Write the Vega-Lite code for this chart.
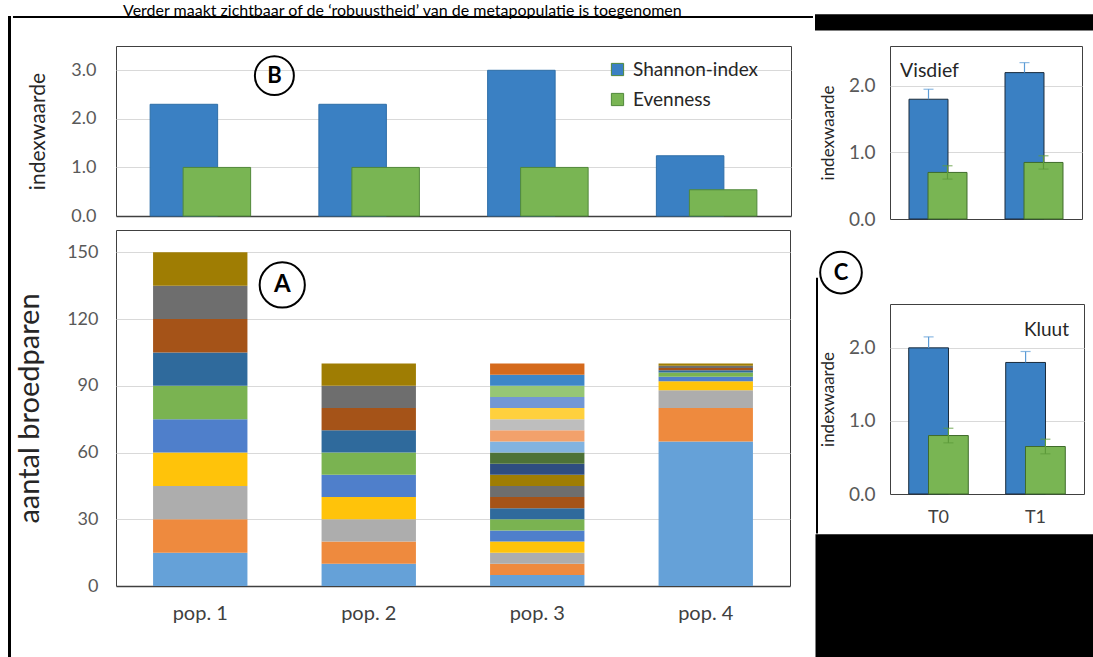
{
  "$schema": "https://vega.github.io/schema/vega-lite/v6.json",
  "padding": {"left": 8, "top": 2, "right": 0, "bottom": 0},
  "autosize": {"type": "pad"},
  "title": {"text": "Verder maakt zichtbaar of de ‘robuustheid’ van de metapopulatie is toegenomen", "fontSize": 16, "fontWeight": "normal", "font": "Lato", "color": "#000000", "anchor": "start", "dx": 115, "offset": -5},
  "config": {
    "font": "Lato",
    "view": {"stroke": "#404040", "strokeWidth": 1},
    "axis": {"labelFont": "Lato", "titleFont": "Lato", "labelColor": "#595959", "titleColor": "#262626", "titleFontWeight": "normal", "gridColor": "#D9D9D9", "domainColor": "#595959", "ticks": false},
    "legend": {"labelFont": "Lato"}
  },
  "datasets": {
    "pops": [
      {"pop": "pop. 1", "species": 1, "count": 15}, {"pop": "pop. 1", "species": 2, "count": 15}, {"pop": "pop. 1", "species": 3, "count": 15}, {"pop": "pop. 1", "species": 4, "count": 15}, {"pop": "pop. 1", "species": 5, "count": 15},
      {"pop": "pop. 1", "species": 6, "count": 15}, {"pop": "pop. 1", "species": 7, "count": 15}, {"pop": "pop. 1", "species": 8, "count": 15}, {"pop": "pop. 1", "species": 9, "count": 15}, {"pop": "pop. 1", "species": 10, "count": 15},
      {"pop": "pop. 2", "species": 1, "count": 10}, {"pop": "pop. 2", "species": 2, "count": 10}, {"pop": "pop. 2", "species": 3, "count": 10}, {"pop": "pop. 2", "species": 4, "count": 10}, {"pop": "pop. 2", "species": 5, "count": 10},
      {"pop": "pop. 2", "species": 6, "count": 10}, {"pop": "pop. 2", "species": 7, "count": 10}, {"pop": "pop. 2", "species": 8, "count": 10}, {"pop": "pop. 2", "species": 9, "count": 10}, {"pop": "pop. 2", "species": 10, "count": 10},
      {"pop": "pop. 3", "species": 1, "count": 5}, {"pop": "pop. 3", "species": 2, "count": 5}, {"pop": "pop. 3", "species": 3, "count": 5}, {"pop": "pop. 3", "species": 4, "count": 5}, {"pop": "pop. 3", "species": 5, "count": 5},
      {"pop": "pop. 3", "species": 6, "count": 5}, {"pop": "pop. 3", "species": 7, "count": 5}, {"pop": "pop. 3", "species": 8, "count": 5}, {"pop": "pop. 3", "species": 9, "count": 5}, {"pop": "pop. 3", "species": 10, "count": 5},
      {"pop": "pop. 3", "species": 11, "count": 5}, {"pop": "pop. 3", "species": 12, "count": 5}, {"pop": "pop. 3", "species": 13, "count": 5}, {"pop": "pop. 3", "species": 14, "count": 5}, {"pop": "pop. 3", "species": 15, "count": 5},
      {"pop": "pop. 3", "species": 16, "count": 5}, {"pop": "pop. 3", "species": 17, "count": 5}, {"pop": "pop. 3", "species": 18, "count": 5}, {"pop": "pop. 3", "species": 19, "count": 5}, {"pop": "pop. 3", "species": 20, "count": 5},
      {"pop": "pop. 4", "species": 1, "count": 65}, {"pop": "pop. 4", "species": 2, "count": 15}, {"pop": "pop. 4", "species": 3, "count": 8}, {"pop": "pop. 4", "species": 4, "count": 4}, {"pop": "pop. 4", "species": 5, "count": 2},
      {"pop": "pop. 4", "species": 6, "count": 2}, {"pop": "pop. 4", "species": 7, "count": 1}, {"pop": "pop. 4", "species": 8, "count": 1}, {"pop": "pop. 4", "species": 9, "count": 1}, {"pop": "pop. 4", "species": 10, "count": 1}
    ],
    "div": [
      {"pop": "pop. 1", "index": "Shannon-index", "value": 2.3}, {"pop": "pop. 1", "index": "Evenness", "value": 1.0},
      {"pop": "pop. 2", "index": "Shannon-index", "value": 2.3}, {"pop": "pop. 2", "index": "Evenness", "value": 1.0},
      {"pop": "pop. 3", "index": "Shannon-index", "value": 3.0}, {"pop": "pop. 3", "index": "Evenness", "value": 1.0},
      {"pop": "pop. 4", "index": "Shannon-index", "value": 1.24}, {"pop": "pop. 4", "index": "Evenness", "value": 0.54}
    ],
    "c": [
      {"species": "Visdief", "t": "T0", "index": "Shannon-index", "value": 1.8, "lo": 1.8, "hi": 1.95},
      {"species": "Visdief", "t": "T0", "index": "Evenness", "value": 0.7, "lo": 0.6, "hi": 0.8},
      {"species": "Visdief", "t": "T1", "index": "Shannon-index", "value": 2.2, "lo": 2.2, "hi": 2.35},
      {"species": "Visdief", "t": "T1", "index": "Evenness", "value": 0.85, "lo": 0.75, "hi": 0.95},
      {"species": "Kluut", "t": "T0", "index": "Shannon-index", "value": 2.0, "lo": 2.0, "hi": 2.15},
      {"species": "Kluut", "t": "T0", "index": "Evenness", "value": 0.8, "lo": 0.7, "hi": 0.9},
      {"species": "Kluut", "t": "T1", "index": "Shannon-index", "value": 1.8, "lo": 1.8, "hi": 1.95},
      {"species": "Kluut", "t": "T1", "index": "Evenness", "value": 0.65, "lo": 0.55, "hi": 0.75}
    ]
  },
  "spacing": 1,
  "hconcat": [
    {"width": 3, "height": 640, "data": {"values": [{"note": "border"}]}, "mark": {"type": "rule", "color": "black", "strokeWidth": 3},
     "encoding": {"x": {"datum": 0.5, "type": "quantitative", "scale": {"domain": [0, 1]}, "axis": null}, "y": {"datum": -20, "type": "quantitative", "scale": {"domain": [0, 640]}, "axis": null}, "y2": {"datum": 670}},
     "view": {"stroke": null}},
    {
      "spacing": 0,
      "hconcat": [
        {
          "spacing": 3,
          "vconcat": [
            {
              "width": 675, "height": 170,
              "data": {"name": "div"},
              "layer": [
                {"transform": [{"filter": "datum.index === 'Shannon-index'"}], "mark": {"type": "bar", "xOffset": -16.5, "width": {"band": 0.4}, "stroke": "#2E6EA8", "strokeWidth": 1},
                 "encoding": {
                   "x": {"field": "pop", "type": "nominal", "scale": {"paddingInner": 0, "paddingOuter": 0}, "axis": {"labels": false, "title": null, "domainWidth": 1.5, "domainColor": "#404040"}},
                   "y": {"field": "value", "type": "quantitative", "scale": {"domain": [0, 3.5]}, "axis": {"values": [0, 1, 2, 3], "format": ".1f", "title": "indexwaarde", "titleFontSize": 21, "labelFontSize": 18, "labelPadding": 20, "titlePadding": 22, "domain": false, "grid": true}},
                   "color": {"field": "index", "type": "nominal", "scale": {"domain": ["Shannon-index", "Evenness"], "range": ["#3A80C3", "#79B553"]},
                   "legend": {"title": null, "orient": "none", "legendX": 600, "legendY": 14, "symbolType": "square", "symbolSize": 150, "symbolStrokeColor": "#404040", "symbolStrokeWidth": 1, "labelFontSize": 19, "labelColor": "#262626", "rowPadding": 10, "labelOffset": 6}}}},
                {"transform": [{"filter": "datum.index === 'Evenness'"}], "mark": {"type": "bar", "xOffset": 16.5, "width": {"band": 0.4}, "stroke": "#50883A", "strokeWidth": 1},
                 "encoding": {"x": {"field": "pop", "type": "nominal"}, "y": {"field": "value", "type": "quantitative"}, "color": {"field": "index", "type": "nominal"}}},
                {"data": {"values": [{"note": "B"}]}, "mark": {"type": "point", "shape": "circle", "size": 1520, "filled": false, "stroke": "black", "strokeWidth": 2, "opacity": 1, "xOffset": 74}, "encoding": {"x": {"datum": "pop. 1"}, "y": {"datum": 2.89}}},
                {"data": {"values": [{"note": "B"}]}, "mark": {"type": "text", "fontSize": 22, "fontWeight": "bold", "color": "black", "xOffset": 74}, "encoding": {"x": {"datum": "pop. 1"}, "y": {"datum": 2.89}, "text": {"field": "note"}}},
                {"data": {"values": [{"note": "top border"}]}, "mark": {"type": "bar", "color": "black", "width": 800, "xOffset": 212.6}, "encoding": {"x": {"datum": "pop. 1"}, "y": {"datum": 4.118}, "y2": {"datum": 4.077}}}
              ]
            },
            {
              "width": 674, "height": 356,
              "data": {"name": "pops"},
              "layer": [
                {"mark": {"type": "bar"}, "encoding": {
                  "x": {"field": "pop", "type": "nominal", "scale": {"paddingInner": 0.44, "paddingOuter": 0.22}, "axis": {"title": null, "labelAngle": 0, "labelFontSize": 20, "labelPadding": 17, "labelColor": "#404040", "domainWidth": 1.5, "domainColor": "#404040"}},
                  "y": {"field": "count", "type": "quantitative", "scale": {"domain": [0, 160]}, "axis": {"values": [0, 30, 60, 90, 120, 150], "title": "aantal broedparen", "titleFontSize": 29, "labelFontSize": 18, "labelPadding": 18, "titlePadding": 22, "domain": false, "grid": true}},
                  "fill": {"field": "species", "type": "ordinal", "scale": {"domain": [1, 2, 3, 4, 5, 6, 7, 8, 9, 10, 11, 12, 13, 14, 15, 16, 17, 18, 19, 20],
                    "range": ["#65A1D8", "#EE8A3E", "#ADADAD", "#FFC30A", "#4F7FCB", "#7AB351", "#2F6A9C", "#A55318", "#6E6E6E", "#9F7D03", "#2E4D80", "#4D7237", "#82B3E0", "#F2A16B", "#BEBEBE", "#FFD03D", "#7297D5", "#96C675", "#3D86C7", "#D56A1C"]}, "legend": null},
                  "order": {"field": "species", "type": "quantitative", "sort": "ascending"}}},
                {"data": {"values": [{"note": "A"}]}, "mark": {"type": "point", "shape": "circle", "size": 2043, "filled": false, "stroke": "black", "strokeWidth": 2, "opacity": 1, "xOffset": 82}, "encoding": {"x": {"datum": "pop. 1"}, "y": {"datum": 135.3}}},
                {"data": {"values": [{"note": "A"}]}, "mark": {"type": "text", "fontSize": 24, "fontWeight": "bold", "color": "black", "xOffset": 82}, "encoding": {"x": {"datum": "pop. 1"}, "y": {"datum": 135.3}, "text": {"field": "note"}}}
              ]
            }
          ]
        },
        {
          "spacing": 17,
          "vconcat": [
            {
              "width": 192, "height": 173,
              "data": {"name": "c"},
              "layer": [
                {"transform": [{"filter": "datum.species === 'Visdief' && datum.index === 'Shannon-index'"}], "mark": {"type": "bar", "fill": "#3A80C3", "stroke": "#1A2B3C", "strokeWidth": 1, "xOffset": -9.5, "width": {"band": 0.406}},
                 "encoding": {
                   "x": {"field": "t", "type": "nominal", "scale": {"domain": ["T0", "T1"], "paddingInner": 0, "paddingOuter": 0}, "axis": {"labels": false, "title": null, "domainColor": "#404040"}},
                   "y": {"field": "value", "type": "quantitative", "scale": {"domain": [0, 2.5]}, "axis": {"values": [0, 1, 2], "format": ".1f", "title": "indexwaarde", "titleFontSize": 17, "labelFontSize": 19, "labelPadding": 15, "titlePadding": 11, "domain": false, "grid": true}}}},
                {"transform": [{"filter": "datum.species === 'Visdief' && datum.index === 'Evenness'"}], "mark": {"type": "bar", "fill": "#79B553", "stroke": "#3F6B2B", "strokeWidth": 1, "xOffset": 9.5, "width": {"band": 0.406}}, "encoding": {"x": {"field": "t", "type": "nominal"}, "y": {"field": "value", "type": "quantitative"}}},
                {"transform": [{"filter": "datum.species === 'Visdief' && datum.index === 'Shannon-index'"}], "mark": {"type": "rule", "color": "#5B9BD5", "strokeWidth": 1.2, "xOffset": -9.5}, "encoding": {"x": {"field": "t", "type": "nominal"}, "y": {"field": "lo", "type": "quantitative"}, "y2": {"field": "hi"}}},
                {"transform": [{"filter": "datum.species === 'Visdief' && datum.index === 'Shannon-index'"}], "mark": {"type": "tick", "orient": "horizontal", "color": "#5B9BD5", "size": 10, "thickness": 1.2, "xOffset": -9.5}, "encoding": {"x": {"field": "t", "type": "nominal"}, "y": {"field": "hi", "type": "quantitative"}}},
                {"transform": [{"filter": "datum.species === 'Visdief' && datum.index === 'Evenness'"}], "mark": {"type": "rule", "color": "#5C9A3A", "strokeWidth": 1.2, "xOffset": 9.5}, "encoding": {"x": {"field": "t", "type": "nominal"}, "y": {"field": "lo", "type": "quantitative"}, "y2": {"field": "hi"}}},
                {"transform": [{"filter": "datum.species === 'Visdief' && datum.index === 'Evenness'"}], "mark": {"type": "tick", "orient": "horizontal", "color": "#5C9A3A", "size": 10, "thickness": 1.2, "xOffset": 9.5}, "encoding": {"x": {"field": "t", "type": "nominal"}, "y": {"field": "hi", "type": "quantitative"}}},
                {"transform": [{"filter": "datum.species === 'Visdief' && datum.index === 'Evenness'"}], "mark": {"type": "tick", "orient": "horizontal", "color": "#5C9A3A", "size": 10, "thickness": 1.2, "xOffset": 9.5}, "encoding": {"x": {"field": "t", "type": "nominal"}, "y": {"field": "lo", "type": "quantitative"}}},
                {"data": {"values": [{"note": "Visdief"}]}, "mark": {"type": "text", "fontSize": 19.5, "align": "left", "color": "#262626", "xOffset": -38}, "encoding": {"x": {"datum": "T0"}, "y": {"datum": 2.22}, "text": {"field": "note"}}},
                {"data": {"values": [{"note": "top block"}]}, "mark": {"type": "bar", "color": "black", "width": 290, "xOffset": 22}, "encoding": {"x": {"datum": "T0"}, "y": {"datum": 3.078}, "y2": {"datum": 2.832}}}
              ]
            },
            {
              "width": 194, "height": 190,
              "data": {"name": "c"},
              "layer": [
                {"transform": [{"filter": "datum.species === 'Kluut' && datum.index === 'Shannon-index'"}], "mark": {"type": "bar", "fill": "#3A80C3", "stroke": "#1A2B3C", "strokeWidth": 1, "xOffset": -9.9, "width": {"band": 0.41}},
                 "encoding": {
                   "x": {"field": "t", "type": "nominal", "scale": {"domain": ["T0", "T1"], "paddingInner": 0, "paddingOuter": 0}, "axis": {"title": null, "labelAngle": 0, "labelFontSize": 18, "labelPadding": 14, "labelColor": "#404040", "domainColor": "#404040"}},
                   "y": {"field": "value", "type": "quantitative", "scale": {"domain": [0, 2.5]}, "axis": {"values": [0, 1, 2], "format": ".1f", "title": "indexwaarde", "titleFontSize": 17, "labelFontSize": 19, "labelPadding": 15, "titlePadding": 11, "domain": false, "grid": true}}}},
                {"transform": [{"filter": "datum.species === 'Kluut' && datum.index === 'Evenness'"}], "mark": {"type": "bar", "fill": "#79B553", "stroke": "#3F6B2B", "strokeWidth": 1, "xOffset": 9.9, "width": {"band": 0.41}}, "encoding": {"x": {"field": "t", "type": "nominal"}, "y": {"field": "value", "type": "quantitative"}}},
                {"transform": [{"filter": "datum.species === 'Kluut' && datum.index === 'Shannon-index'"}], "mark": {"type": "rule", "color": "#5B9BD5", "strokeWidth": 1.2, "xOffset": -9.9}, "encoding": {"x": {"field": "t", "type": "nominal"}, "y": {"field": "lo", "type": "quantitative"}, "y2": {"field": "hi"}}},
                {"transform": [{"filter": "datum.species === 'Kluut' && datum.index === 'Shannon-index'"}], "mark": {"type": "tick", "orient": "horizontal", "color": "#5B9BD5", "size": 10, "thickness": 1.2, "xOffset": -9.9}, "encoding": {"x": {"field": "t", "type": "nominal"}, "y": {"field": "hi", "type": "quantitative"}}},
                {"transform": [{"filter": "datum.species === 'Kluut' && datum.index === 'Evenness'"}], "mark": {"type": "rule", "color": "#5C9A3A", "strokeWidth": 1.2, "xOffset": 9.9}, "encoding": {"x": {"field": "t", "type": "nominal"}, "y": {"field": "lo", "type": "quantitative"}, "y2": {"field": "hi"}}},
                {"transform": [{"filter": "datum.species === 'Kluut' && datum.index === 'Evenness'"}], "mark": {"type": "tick", "orient": "horizontal", "color": "#5C9A3A", "size": 10, "thickness": 1.2, "xOffset": 9.9}, "encoding": {"x": {"field": "t", "type": "nominal"}, "y": {"field": "hi", "type": "quantitative"}}},
                {"transform": [{"filter": "datum.species === 'Kluut' && datum.index === 'Evenness'"}], "mark": {"type": "tick", "orient": "horizontal", "color": "#5C9A3A", "size": 10, "thickness": 1.2, "xOffset": 9.9}, "encoding": {"x": {"field": "t", "type": "nominal"}, "y": {"field": "lo", "type": "quantitative"}}},
                {"data": {"values": [{"note": "Kluut"}]}, "mark": {"type": "text", "fontSize": 19, "align": "right", "color": "#262626", "xOffset": 33.5}, "encoding": {"x": {"datum": "T1"}, "y": {"datum": 2.24}, "text": {"field": "note"}}},
                {"data": {"values": [{"note": "C"}]}, "mark": {"type": "point", "shape": "circle", "size": 1735, "filled": false, "stroke": "black", "strokeWidth": 2, "opacity": 1, "xOffset": -97.5}, "encoding": {"x": {"datum": "T0"}, "y": {"datum": 3.03}}},
                {"data": {"values": [{"note": "C"}]}, "mark": {"type": "text", "fontSize": 22, "fontWeight": "bold", "color": "black", "xOffset": -97.5}, "encoding": {"x": {"datum": "T0"}, "y": {"datum": 3.03}, "text": {"field": "note"}}},
                {"data": {"values": [{"note": "box line"}]}, "mark": {"type": "rule", "color": "black", "strokeWidth": 2, "xOffset": -121.5}, "encoding": {"x": {"datum": "T0"}, "y": {"datum": 2.96}, "y2": {"datum": -0.54}}},
                {"data": {"values": [{"note": "bottom block"}]}, "mark": {"type": "bar", "color": "black", "width": 290, "xOffset": 22}, "encoding": {"x": {"datum": "T0"}, "y": {"datum": -0.55}, "y2": {"datum": -2.3}}}
              ]
            }
          ]
        }
      ]
    }
  ]
}
